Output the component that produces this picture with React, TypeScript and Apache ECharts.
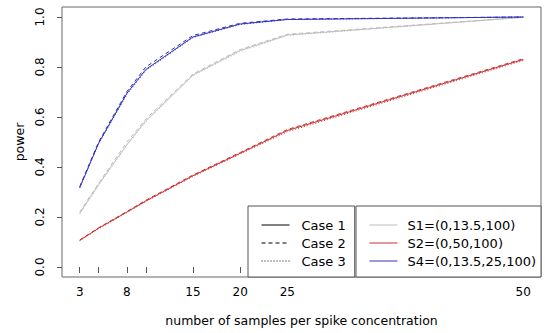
import React, { useEffect, useRef } from "react";
import * as echarts from "echarts";

const xValues = [3, 5, 8, 10, 15, 20, 25, 50];
const xTickValues = [3, 5, 8, 10, 15, 20, 25, 50];
const xLabelValues = [3, 8, 15, 20, 25, 50];
const yTickValues = [0, 0.2, 0.4, 0.6, 0.8, 1.0];

const caseNames = ["Case 1", "Case 2", "Case 3"];
const scenarioNames = ["S1=(0,13.5,100)", "S2=(0,50,100)", "S4=(0,13.5,25,100)"];

// S1 (gray)
const s1Case1 = [0.215, 0.33, 0.49, 0.585, 0.768, 0.866, 0.928, 0.999];
const s1Case2 = [0.22, 0.335, 0.5, 0.592, 0.772, 0.87, 0.931, 0.999];
const s1Case3 = [0.212, 0.326, 0.486, 0.58, 0.765, 0.862, 0.926, 0.998];
// S2 (red)
const s2Case1 = [0.107, 0.155, 0.22, 0.264, 0.365, 0.455, 0.546, 0.83];
const s2Case2 = [0.108, 0.157, 0.222, 0.267, 0.368, 0.458, 0.55, 0.833];
const s2Case3 = [0.105, 0.153, 0.218, 0.262, 0.362, 0.452, 0.541, 0.826];
// S4 (blue)
const s4Case1 = [0.318, 0.495, 0.695, 0.79, 0.92, 0.972, 0.99, 1.0];
const s4Case2 = [0.322, 0.5, 0.702, 0.8, 0.926, 0.975, 0.992, 1.0];
const s4Case3 = [0.316, 0.493, 0.69, 0.786, 0.918, 0.97, 0.99, 1.0];

const GRAY = "#bdbdbd";
const RED = "#cc2f2f";
const BLUE = "#3232b8";
const lineTypes: any[] = ["solid", [4, 3], [1, 2]];
const FONT = "DejaVu Sans";

export default function App() {
  const ref = useRef<HTMLDivElement>(null);
  useEffect(() => {
    if (!ref.current) return;
    const chart = echarts.init(ref.current, undefined, { renderer: "svg" });
    const groups = [
      { color: GRAY, cases: [s1Case1, s1Case2, s1Case3] },
      { color: RED, cases: [s2Case1, s2Case2, s2Case3] },
      { color: BLUE, cases: [s4Case1, s4Case2, s4Case3] },
    ];
    const series: any[] = [];
    groups.forEach((g, gi) => {
      g.cases.forEach((vals, ci) => {
        series.push({
          type: "line",
          name: `data-${gi}-${ci}`,
          data: xValues.map((x, i) => [x, vals[i]]),
          symbol: "none",
          lineStyle: { color: g.color, width: 1, type: lineTypes[ci] },
          itemStyle: { color: g.color },
          silent: true,
        });
      });
    });
    caseNames.forEach((n, ci) => {
      series.push({
        type: "line",
        name: n,
        data: [],
        symbol: "none",
        lineStyle: { color: "#000", width: 1, type: lineTypes[ci] },
        itemStyle: { color: "#000" },
      });
    });
    scenarioNames.forEach((n, si) => {
      const c = [GRAY, RED, BLUE][si];
      series.push({
        type: "line",
        name: n,
        data: [],
        symbol: "none",
        lineStyle: { color: c, width: 1, type: "solid" },
        itemStyle: { color: c },
      });
    });

    const legendCommon = {
      orient: "vertical",
      top: 206,
      borderColor: "#555",
      borderWidth: 1,
      borderRadius: 0,
      itemWidth: 28,
      itemHeight: 14,
      itemGap: 4,
      selectedMode: false,
      backgroundColor: "#fff",
      itemStyle: { opacity: 0 },
      lineStyle: { width: 1 },
    };

    chart.setOption({
      animation: false,
      grid: {
        left: 62,
        right: 4,
        top: 7,
        bottom: 56,
        show: true,
        borderColor: "#666",
        borderWidth: 1,
        backgroundColor: "transparent",
      },
      xAxis: {
        type: "value",
        min: 1.12,
        max: 51.88,
        name: "number of samples per spike concentration",
        nameLocation: "middle",
        nameGap: 37,
        nameTextStyle: { fontFamily: FONT, fontSize: 12.5, color: "#000" },
        axisLine: { show: false },
        axisTick: {
          show: true,
          length: 6,
          lineStyle: { color: "#555" },
          customValues: xTickValues,
        },
        axisLabel: {
          customValues: xLabelValues,
          margin: 9,
          fontFamily: FONT,
          fontSize: 12,
          color: "#000",
        },
        splitLine: { show: false },
      },
      yAxis: {
        type: "value",
        min: -0.04,
        max: 1.04,
        name: "power",
        nameLocation: "middle",
        nameGap: 34,
        nameTextStyle: { fontFamily: FONT, fontSize: 12.5, color: "#000" },
        axisLine: { show: false },
        axisTick: {
          show: true,
          length: 5,
          lineStyle: { color: "#555" },
          customValues: yTickValues,
        },
        axisLabel: {
          customValues: yTickValues,
          rotate: 90,
          margin: 16,
          fontFamily: FONT,
          fontSize: 12,
          color: "#000",
          formatter: (v: number) => v.toFixed(1),
        },
        splitLine: { show: false },
      },
      legend: [
        {
          ...legendCommon,
          left: 248,
          padding: [12, 9, 9, 13],
          data: caseNames,
          textStyle: {
            fontFamily: FONT,
            fontSize: 13,
            color: "#000",
            lineHeight: 14,
            padding: [0, 0, 0, 7],
          },
        },
        {
          ...legendCommon,
          left: 356,
          padding: [12, 5, 9, 13],
          data: scenarioNames,
          textStyle: {
            fontFamily: FONT,
            fontSize: 13,
            color: "#000",
            lineHeight: 14,
            padding: [0, 0, 0, 5],
          },
        },
      ],
      series,
    });
    return () => chart.dispose();
  }, []);
  return (
    <div
      ref={ref}
      style={{ position: "fixed", left: 0, top: 0, width: 545, height: 333, background: "#fff" }}
    />
  );
}
